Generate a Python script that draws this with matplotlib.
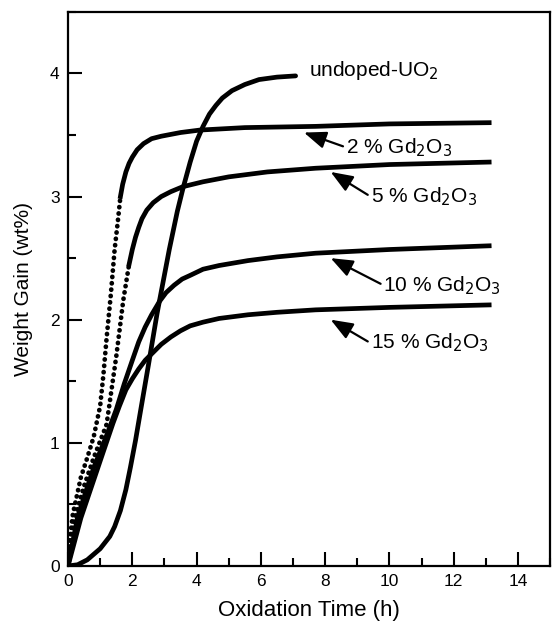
import matplotlib.pyplot as plt
from matplotlib.ticker import MultipleLocator

plt.rcParams['font.family'] = ['Liberation Sans', 'DejaVu Sans']

# ------------------- DATA -------------------
undoped_x = [0, 0.3, 0.6, 1.0, 1.3, 1.45, 1.63, 1.8, 1.94, 2.1, 2.25, 2.5, 2.77,
             3.15, 3.4, 3.57, 3.8, 4.0, 4.2, 4.4, 4.6, 4.8, 5.1, 5.5, 5.94, 6.5, 7.08]
undoped_y = [0, 0.01, 0.05, 0.14, 0.24, 0.32, 0.45, 0.62, 0.8, 1.02, 1.25, 1.63, 2.05,
             2.57, 2.88, 3.06, 3.28, 3.45, 3.57, 3.67, 3.74, 3.8, 3.86, 3.91, 3.95,
             3.97, 3.98]

gd2_x = [0, 0.05, 0.15, 0.4, 0.6, 0.8, 1.0, 1.1, 1.2, 1.33, 1.45, 1.55, 1.63,
         1.7, 1.8, 1.9, 2.0, 2.15, 2.35, 2.6, 2.9, 3.5, 4.1, 5.5, 7.7, 10, 13.1]
gd2_y = [0, 0.2, 0.42, 0.72, 0.88, 1.05, 1.3, 1.55, 1.85, 2.2, 2.57, 2.8, 3.0,
         3.1, 3.2, 3.27, 3.32, 3.38, 3.43, 3.47, 3.49, 3.52, 3.54, 3.56, 3.57,
         3.59, 3.6]
gd2_split = 12  # sparse (dotted) samples up to this index

gd5_x = [0, 0.05, 0.2, 0.5, 0.8, 1.2, 1.5, 1.72, 1.9, 2.0, 2.1, 2.2, 2.3, 2.45,
         2.65, 2.9, 3.2, 3.57, 4.2, 5, 6.2, 7.7, 10, 13.1]
gd5_y = [0, 0.15, 0.38, 0.65, 0.88, 1.15, 1.7, 2.16, 2.45, 2.57, 2.67, 2.75, 2.82,
         2.89, 2.95, 3.0, 3.04, 3.08, 3.12, 3.16, 3.2, 3.23, 3.26, 3.28]
gd5_split = 8

gd10_x = [0, 0.3, 0.8, 1.2, 1.5, 1.75, 2.0, 2.2, 2.4, 2.6, 2.85, 3.05, 3.3, 3.55,
          3.8, 4.2, 4.7, 5.6, 6.5, 7.7, 10, 13.1]
gd10_y = [0, 0.4, 0.8, 1.06, 1.27, 1.48, 1.67, 1.82, 1.94, 2.04, 2.15, 2.22, 2.28,
          2.33, 2.36, 2.41, 2.44, 2.48, 2.51, 2.54, 2.57, 2.6]

gd15_x = [0, 0.4, 1.1, 1.4, 1.6, 1.8, 2.0, 2.2, 2.4, 2.63, 2.9, 3.2, 3.5, 3.8, 4.2,
          4.7, 5.6, 6.5, 7.7, 10, 13.1]
gd15_y = [0, 0.39, 0.93, 1.16, 1.3, 1.43, 1.52, 1.6, 1.67, 1.73, 1.8, 1.86, 1.91,
          1.95, 1.98, 2.01, 2.04, 2.06, 2.08, 2.1, 2.12]

# label text, text position, arrow tip
labels = ['2 % Gd$_2$O$_3$', '5 % Gd$_2$O$_3$', '10 % Gd$_2$O$_3$', '15 % Gd$_2$O$_3$']
label_pos = [(8.64, 3.40), (9.41, 3.0), (9.81, 2.28), (9.41, 1.81)]
arrow_tip = [(7.34, 3.52), (8.17, 3.2), (8.17, 2.5), (8.17, 2.0)]

# ------------------- PLOT -------------------
fig = plt.figure(figsize=(5.53, 6.24), dpi=100)
ax = fig.add_axes([0.123, 0.093, 0.872, 0.888])

lw = 3.4
dot = dict(color='black', lw=lw, linestyle=(0, (0.05, 1.3)), dash_capstyle='round')
ax.plot(undoped_x, undoped_y, color='black', lw=lw, solid_capstyle='round')
ax.plot(gd2_x[:gd2_split + 1], gd2_y[:gd2_split + 1], **dot)
ax.plot(gd2_x[gd2_split:], gd2_y[gd2_split:], color='black', lw=lw)
ax.plot(gd5_x[:gd5_split + 1], gd5_y[:gd5_split + 1], **dot)
ax.plot(gd5_x[gd5_split:], gd5_y[gd5_split:], color='black', lw=lw)
ax.plot(gd10_x, gd10_y, color='black', lw=lw)
ax.plot(gd15_x, gd15_y, color='black', lw=lw)

ax.text(7.49, 4.02, 'undoped-UO$_2$', fontsize=15, ha='left', va='center')
for txt, pos, tip in zip(labels, label_pos, arrow_tip):
    ax.annotate(txt, xy=tip, xytext=pos, fontsize=15, ha='left', va='center',
                arrowprops=dict(arrowstyle='-|>,head_length=0.9,head_width=0.35',
                                color='black', lw=1.6, shrinkA=0, shrinkB=0,
                                relpos=(0, 0.5)))

ax.set_xlim(0, 15)
ax.set_ylim(0, 4.5)
ax.xaxis.set_major_locator(MultipleLocator(2))
ax.xaxis.set_minor_locator(MultipleLocator(1))
ax.yaxis.set_major_locator(MultipleLocator(1))
ax.yaxis.set_minor_locator(MultipleLocator(0.5))
ax.tick_params(which='both', direction='in', top=False, right=False,
               width=1.5, labelsize=12.5, pad=6)
ax.tick_params(which='major', length=10)
ax.tick_params(which='minor', length=6)
for s in ax.spines.values():
    s.set_linewidth(1.6)

ax.set_xlabel('Oxidation Time (h)', fontsize=16, labelpad=8)
ax.set_ylabel('Weight Gain (wt%)', fontsize=15, labelpad=12)

fig.savefig('out.png', dpi=100)
